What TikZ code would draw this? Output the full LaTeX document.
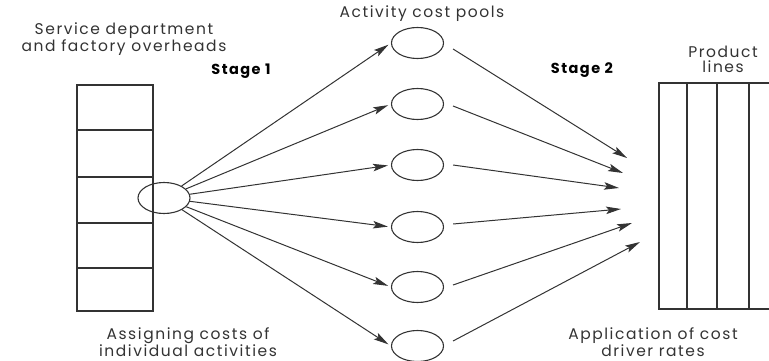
\documentclass[tikz,border=0pt]{standalone}
\usepackage{fontspec}
\setmainfont{Poppins}[LetterSpace=10]
\usetikzlibrary{arrows.meta,shapes.geometric}
\definecolor{ink}{HTML}{333333}
\begin{document}
\begin{tikzpicture}[x=1pt,y=-1pt,
  frame/.style={draw=ink, line width=1.1pt},
  pool/.style={ellipse, draw=ink, line width=1.1pt, minimum width=52pt,
    minimum height=31pt, inner sep=0pt},
  flow/.style={draw=ink, line width=1pt,
    -{Stealth[length=15pt,width=7.5pt,inset=3pt]}},
  lbl/.style={text=ink, font=\fontsize{15.5}{15}\selectfont, align=center,
    inner sep=0pt},
  stg/.style={text=black, font=\bfseries\fontsize{14.5}{15}\selectfont,
    inner sep=0pt}]
\useasboundingbox (0,0) rectangle (769,361);
\clip (0,0) rectangle (769,361);

% overhead cost column
\draw[frame] (77,85) rectangle (153,311);
\foreach \y in {130,177,223,268} \draw[frame] (77,\y) -- (153,\y);

% product line columns (run past the right edge)
\draw[frame] (659,83) rectangle (800,309);
\foreach \x in {687,717,749} \draw[frame] (\x,83) -- (\x,309);

% source and activity cost pools
\node[pool] (src) at (164,198) {};
\foreach \i/\y in {1/43,2/104,3/165,4/227,5/287,6/346}
  \node[pool] (p\i) at (417.5,\y) {};

% stage 2 arrow tips
\coordinate (t1) at (627,158);
\coordinate (t2) at (623,173);
\coordinate (t3) at (619,188);
\coordinate (t4) at (621,209);
\coordinate (t5) at (632,223);
\coordinate (t6) at (640,242);

% stage 1: assign costs to pools
\foreach \i in {1,...,6}
  \draw[flow, shorten >=3pt] (src) -- (p\i.west);

% stage 2: pools to product lines
\foreach \i/\dy in {1/6,2/2,3/0,4/-3,5/-2,6/-5}
  \draw[flow] ([shift={(9,\dy)}]p\i.east) -- (t\i);

% labels
\node[lbl] (svc) at (124,39.5) {Service department\\and factory overheads};
\node[lbl] (act) at (422,14) {Activity cost pools};
\node[stg] (s1) at (241,71) {Stage 1};
\node[stg] (s2) at (582,70) {Stage 2};
\node[lbl] (prod) at (723,59) {Product\\lines};
\node[lbl] (asg) at (188,342.5) {Assigning costs of\\individual activities};
\node[lbl] (app) at (653,342) {Application of cost\\driver rates};
\end{tikzpicture}
\end{document}
